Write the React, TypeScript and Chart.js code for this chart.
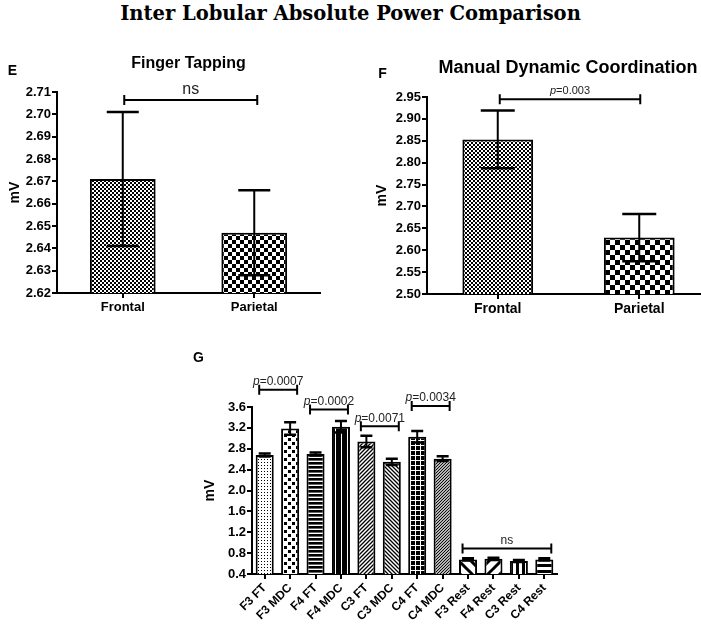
import React, { useEffect, useRef } from 'react';
import { Chart, registerables } from 'chart.js';
Chart.register(...registerables);

// ---------------- data ----------------
const mainTitle = 'Inter Lobular Absolute Power Comparison';

const ftTitle = 'Finger Tapping';
const ftLabels = ['Frontal', 'Parietal'];
const ftMeans = [2.671, 2.647];
const ftSem = [0.03, 0.019];
const ftAxis = [2.62, 2.71, 0.01]; // min, max, step
const ftBrackets: [number, number, number, string][] = [[0, 1, 2.7064, 'ns']];

const mdcTitle = 'Manual Dynamic Coordination';
const mdcLabels = ['Frontal', 'Parietal'];
const mdcMeans = [2.853, 2.629];
const mdcSem = [0.066, 0.054];
const mdcAxis = [2.5, 2.95, 0.05];
const mdcBrackets: [number, number, number, string][] = [[0, 1, 2.945, 'p=0.003']];

const gLabels = ['F3 FT', 'F3 MDC', 'F4 FT', 'F4 MDC', 'C3 FT', 'C3 MDC', 'C4 FT', 'C4 MDC', 'F3 Rest', 'F4 Rest', 'C3 Rest', 'C4 Rest'];
const gMeans = [2.68, 3.19, 2.7, 3.22, 2.94, 2.55, 3.03, 2.61, 0.68, 0.69, 0.65, 0.68];
const gSem = [0.03, 0.12, 0.03, 0.11, 0.11, 0.06, 0.11, 0.045, 0.02, 0.02, 0.02, 0.02];
const gAxis = [0.4, 3.6, 0.4];
const gBrackets: [number, number, number, string][] = [
  [0, 1, 3.93, 'p=0.0007'],
  [2, 3, 3.55, 'p=0.0002'],
  [4, 5, 3.23, 'p=0.0071'],
  [6, 7, 3.62, 'p=0.0034'],
  [8, 11, 0.89, 'ns'],
];

const FONT = 'Arial, "Liberation Sans", Helvetica, sans-serif';

// ---------------- patterns ----------------
function tile(w: number, h: number, draw: (c: CanvasRenderingContext2D) => void, bg = '#fff'): CanvasPattern {
  const cv = document.createElement('canvas');
  cv.width = w;
  cv.height = h;
  const c = cv.getContext('2d')!;
  c.fillStyle = bg;
  c.fillRect(0, 0, w, h);
  c.fillStyle = '#000';
  c.strokeStyle = '#000';
  draw(c);
  return c.createPattern(cv, 'repeat')!;
}
const checker = (n: number) =>
  tile(2 * n, 2 * n, (c) => {
    c.fillRect(0, 0, n, n);
    c.fillRect(n, n, n, n);
  });
const diag = (s: number, lw: number, dir: 1 | -1) =>
  tile(s, s, (c) => {
    c.lineWidth = lw;
    c.beginPath();
    for (const o of [-s, 0, s]) {
      if (dir === 1) {
        c.moveTo(o - 1, s + 1);
        c.lineTo(o + s + 1, -1);
      } else {
        c.moveTo(o - 1, -1);
        c.lineTo(o + s + 1, s + 1);
      }
    }
    c.stroke();
  });

function gPatterns(): CanvasPattern[] {
  return [
    tile(3, 3, (c) => { c.fillRect(0, 0, 1, 1); }),
    tile(8, 8, (c) => { c.fillRect(0, 0, 3, 3); c.fillRect(4, 4, 3, 3); }),
    tile(1, 4, (c) => { c.fillRect(0, 0, 1, 2); c.fillStyle = '#666'; c.fillRect(0, 2, 1, 1); }),
    tile(6, 1, (c) => { c.fillStyle = '#fff'; c.fillRect(5, 0, 1, 1); }, '#000'),
    diag(4, 1.3, 1),
    diag(4, 1.3, -1),
    tile(5, 5, (c) => { c.fillStyle = '#fff'; c.fillRect(0, 0, 5, 1); c.fillRect(0, 0, 1, 5); }, '#000'),
    diag(3, 1.1, 1),
    diag(12, 3, -1),
    diag(12, 3, 1),
    tile(6, 1, (c) => { c.fillRect(0, 0, 3, 1); }),
    tile(1, 6, (c) => { c.fillRect(0, 0, 1, 3); }),
  ];
}

// ---------------- helpers ----------------
type TextItem = { text: string; x: number; y: number; size: number; align?: CanvasTextAlign };

function drawSig(ctx: CanvasRenderingContext2D, label: string, cx: number, y: number, size: number) {
  ctx.textBaseline = 'alphabetic';
  ctx.fillStyle = '#222';
  const fN = `${size}px ${FONT}`;
  if (label.startsWith('p')) {
    const fI = `italic ${size}px ${FONT}`;
    ctx.font = fI;
    const w1 = ctx.measureText('p').width;
    ctx.font = fN;
    const rest = label.slice(1);
    const w2 = ctx.measureText(rest).width;
    const x0 = cx - (w1 + w2) / 2;
    ctx.textAlign = 'left';
    ctx.font = fI;
    ctx.fillText('p', x0, y);
    ctx.font = fN;
    ctx.fillText(rest, x0 + w1, y);
  } else {
    ctx.font = fN;
    ctx.textAlign = 'center';
    ctx.fillText(label, cx, y);
  }
}

type Spec = {
  labels: string[];
  means: number[];
  sem: number[];
  axis: number[];
  decimals: number;
  brackets: [number, number, number, string][];
  canvas: { left: number; top: number; w: number; h: number };
  area: { l: number; t: number; r: number; b: number };
  barPct: number;
  capW: number;
  tickFont: number;
  xFont: number;
  xPad: number;
  rotate: number;
  titlePad: number;
  dl: number;
  dr: number;
  sigSize: number;
  sigGap: number;
  texts: TextItem[];
};

function build(canvas: HTMLCanvasElement, s: Spec, patterns: CanvasPattern[]): Chart {
  const { canvas: cb, area } = s;
  const yWidth = area.l - cb.left;
  const xHeight = cb.top + cb.h - area.b;
  const padTop = area.t - cb.top;
  const padRight = cb.left + cb.w - area.r;

  const plugin = {
    id: 'annot',
    afterDatasetsDraw(chart: any) {
      const ctx: CanvasRenderingContext2D = chart.ctx;
      const meta = chart.getDatasetMeta(0);
      const ys = chart.scales.y;
      const data = chart.data.datasets[0].data as number[];
      ctx.save();
      ctx.strokeStyle = '#000';
      data.forEach((m, i) => {
        const x = meta.data[i].x;
        const yT = ys.getPixelForValue(m + s.sem[i]);
        const yB = ys.getPixelForValue(m - s.sem[i]);
        ctx.lineWidth = 2;
        ctx.beginPath();
        ctx.moveTo(x, yT);
        ctx.lineTo(x, yB);
        ctx.stroke();
        ctx.lineWidth = 2.5;
        const hw = s.capW / 2;
        ctx.beginPath();
        ctx.moveTo(x - hw, yT);
        ctx.lineTo(x + hw, yT);
        ctx.moveTo(x - hw, yB);
        ctx.lineTo(x + hw, yB);
        ctx.stroke();
      });
      s.brackets.forEach(([a, b, v, label]) => {
        const x1 = meta.data[a].x + s.dl;
        const x2 = meta.data[b].x + s.dr;
        const y = ys.getPixelForValue(v);
        ctx.lineWidth = 2;
        ctx.strokeStyle = '#000';
        ctx.beginPath();
        ctx.moveTo(x1, y);
        ctx.lineTo(x2, y);
        ctx.moveTo(x1, y - 5);
        ctx.lineTo(x1, y + 5);
        ctx.moveTo(x2, y - 5);
        ctx.lineTo(x2, y + 5);
        ctx.stroke();
        drawSig(ctx, label, (x1 + x2) / 2, y - s.sigGap, s.sigSize);
      });
      ctx.restore();
    },
    afterDraw(chart: any) {
      const ctx: CanvasRenderingContext2D = chart.ctx;
      ctx.save();
      ctx.fillStyle = '#000';
      ctx.textBaseline = 'alphabetic';
      s.texts.forEach((t) => {
        ctx.font = `bold ${t.size}px ${FONT}`;
        ctx.textAlign = t.align || 'center';
        ctx.fillText(t.text, t.x, t.y);
      });
      ctx.restore();
    },
  };

  const axisGrid = {
    display: true,
    drawOnChartArea: false,
    drawTicks: true,
    tickLength: 5,
    color: '#000',
    lineWidth: 2,
  };

  return new Chart(canvas, {
    type: 'bar',
    data: {
      labels: s.labels,
      datasets: [
        {
          data: s.means,
          backgroundColor: patterns as any,
          borderColor: '#000',
          borderWidth: 2,
          barPercentage: s.barPct,
          categoryPercentage: 1,
        },
      ],
    },
    options: {
      responsive: false,
      animation: false,
      devicePixelRatio: 1,
      events: [],
      layout: { padding: { left: 0, top: padTop, right: padRight, bottom: 0 } },
      plugins: { legend: { display: false }, tooltip: { enabled: false }, title: { display: false } },
      scales: {
        x: {
          type: 'category',
          offset: true,
          grid: { ...axisGrid, offset: false },
          border: { display: true, color: '#000', width: 2 },
          ticks: {
            color: '#000',
            font: { family: FONT, size: s.xFont, weight: 'bold' },
            padding: s.xPad,
            autoSkip: false,
            minRotation: s.rotate,
            maxRotation: s.rotate,
          },
          afterFit: (sc: any) => {
            sc.height = xHeight;
          },
        },
        y: {
          min: s.axis[0],
          max: s.axis[1],
          grid: axisGrid,
          border: { display: true, color: '#000', width: 2 },
          ticks: {
            stepSize: s.axis[2],
            color: '#000',
            padding: 1,
            autoSkip: false,
            font: { family: FONT, size: s.tickFont, weight: 'bold' },
            callback: (v: any) => Number(v).toFixed(s.decimals),
          },
          title: {
            display: true,
            text: 'mV',
            color: '#000',
            font: { family: FONT, size: 14, weight: 'bold' },
            padding: { top: s.titlePad, bottom: 0 },
          },
          afterFit: (sc: any) => {
            sc.width = yWidth;
          },
        },
      },
    } as any,
    plugins: [plugin],
  });
}

const specE: Spec = {
  labels: ftLabels,
  means: ftMeans,
  sem: ftSem,
  axis: ftAxis,
  decimals: 2,
  brackets: ftBrackets,
  canvas: { left: 0, top: 40, w: 340, h: 280 },
  area: { l: 57, t: 92, r: 320, b: 293 },
  barPct: 0.5,
  capW: 32,
  tickFont: 13,
  xFont: 13,
  xPad: 2,
  rotate: 0,
  titlePad: 6.6,
  dl: 1.5,
  dr: 3,
  sigSize: 16,
  sigGap: 6,
  texts: [
    { text: 'E', x: 12.5, y: 35, size: 14 },
    { text: ftTitle, x: 188.5, y: 28.3, size: 16 },
  ],
};

const specF: Spec = {
  labels: mdcLabels,
  means: mdcMeans,
  sem: mdcSem,
  axis: mdcAxis,
  decimals: 2,
  brackets: mdcBrackets,
  canvas: { left: 345, top: 40, w: 370, h: 280 },
  area: { l: 427, t: 97, r: 710, b: 294 },
  barPct: 0.5,
  capW: 34,
  tickFont: 13,
  xFont: 14,
  xPad: 2,
  rotate: 0,
  titlePad: 28.6,
  dl: 2,
  dr: 1,
  sigSize: 11,
  sigGap: 5.5,
  texts: [
    { text: 'F', x: 37.5, y: 38, size: 14 },
    { text: mdcTitle, x: 223, y: 33, size: 18 },
  ],
};

const specG: Spec = {
  labels: gLabels,
  means: gMeans,
  sem: gSem,
  axis: gAxis,
  decimals: 1,
  brackets: gBrackets,
  canvas: { left: 180, top: 330, w: 400, h: 294 },
  area: { l: 252, t: 407, r: 557, b: 574 },
  barPct: 0.71,
  capW: 12,
  tickFont: 13,
  xFont: 12,
  xPad: 2,
  rotate: 45,
  titlePad: 21.6,
  dl: -5.5,
  dr: 7,
  sigSize: 12,
  sigGap: 4.7,
  texts: [{ text: 'G', x: 18.5, y: 32, size: 14 }],
};

function Panel({ spec, pats }: { spec: Spec; pats: () => CanvasPattern[] }) {
  const ref = useRef<HTMLCanvasElement>(null);
  useEffect(() => {
    const ch = build(ref.current!, spec, pats());
    return () => ch.destroy();
  }, []);
  const c = spec.canvas;
  return (
    <canvas
      ref={ref}
      width={c.w}
      height={c.h}
      style={{ position: 'absolute', left: c.left, top: c.top, width: c.w, height: c.h }}
    />
  );
}

export default function App() {
  return (
    <div
      style={{
        position: 'absolute',
        left: 0,
        top: 0,
        width: 701,
        height: 624,
        overflow: 'hidden',
        background: '#fff',
      }}
    >
      <div
        style={{
          position: 'absolute',
          left: 0,
          top: 0,
          width: 701,
          height: 28,
          lineHeight: '28px',
          textAlign: 'center',
          fontFamily: '"DejaVu Serif", serif',
          fontWeight: 'bold',
          fontSize: 19.5,
          color: '#000',
        }}
      >
        {mainTitle}
      </div>
      <Panel spec={specE} pats={() => [checker(2), checker(4)]} />
      <Panel spec={specF} pats={() => [checker(2), checker(5)]} />
      <Panel spec={specG} pats={gPatterns} />
    </div>
  );
}
